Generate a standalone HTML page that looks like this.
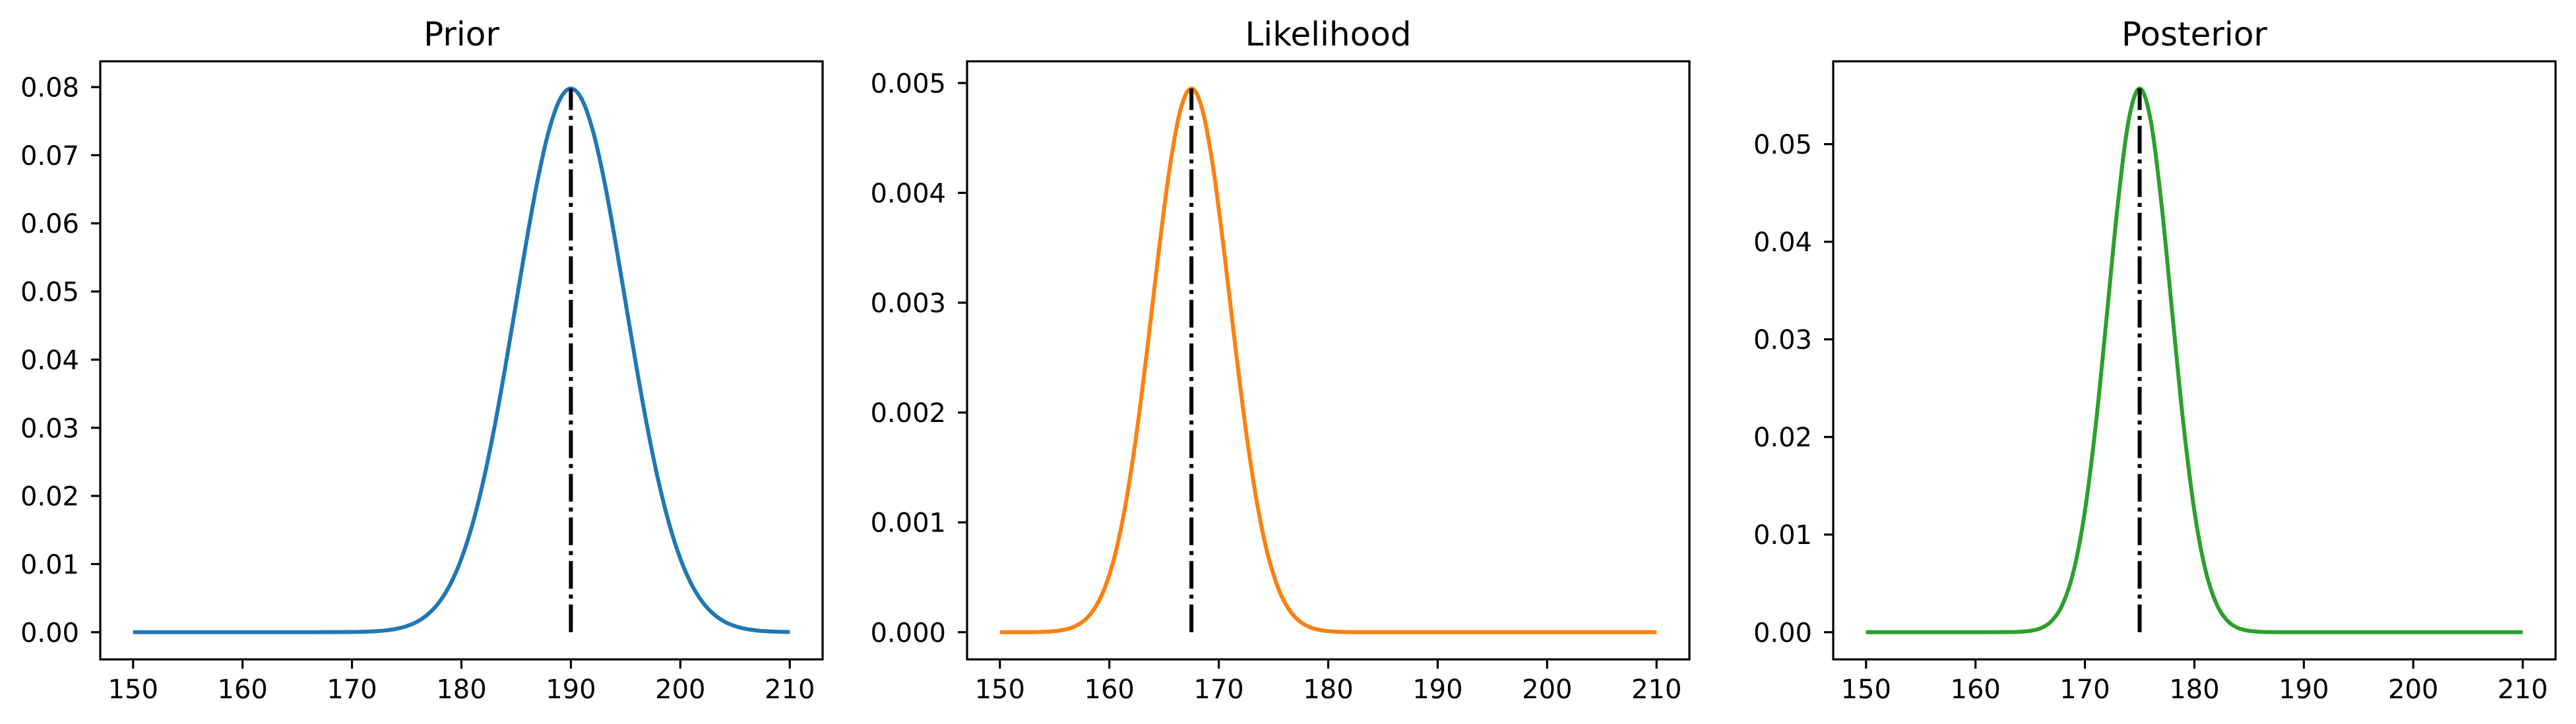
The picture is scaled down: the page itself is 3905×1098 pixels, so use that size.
<!DOCTYPE html>
<html><head><meta charset="utf-8">
<style>
html,body{margin:0;padding:0;background:#fff;}
svg{display:block;font-family:"DejaVu Sans","Liberation Sans",sans-serif;}
</style></head>
<body>
<svg id="fig" width="3905" height="1098" viewBox="0 0 3905 1098" xmlns="http://www.w3.org/2000/svg"></svg>
<script>
// ---- data ----
const titles = ["Prior", "Likelihood", "Posterior"];
const xTicks = [150, 160, 170, 180, 190, 200, 210];
const priorYTicks = [0.00, 0.01, 0.02, 0.03, 0.04, 0.05, 0.06, 0.07, 0.08];
const likeYTicks = [0.000, 0.001, 0.002, 0.003, 0.004, 0.005];
const postYTicks = [0.00, 0.01, 0.02, 0.03, 0.04, 0.05];
const priorYTickLabels = ["0.00","0.01","0.02","0.03","0.04","0.05","0.06","0.07","0.08"];
const likeYTickLabels = ["0.000","0.001","0.002","0.003","0.004","0.005"];
const postYTickLabels = ["0.00","0.01","0.02","0.03","0.04","0.05"];

const priorX = [150,152,154,156,158,160,162,164,166,168,169,170,171,172,173,174,175,176,177,178,179,180,181,182,183,184,185,186,187,188,189,190,191,192,193,194,195,196,197,198,199,200,201,202,203,204,205,206,207,208,209,210];
const priorY = [0,0,0,0,0,0,0,0,0,0.00001,0.00002,0.00003,0.00006,0.00012,0.00025,0.00048,0.00089,0.00158,0.00272,0.00448,0.00709,0.01080,0.01579,0.02218,0.02995,0.03884,0.04839,0.05794,0.06665,0.07365,0.07821,0.07979,0.07821,0.07365,0.06665,0.05794,0.04839,0.03884,0.02995,0.02218,0.01579,0.01080,0.00709,0.00448,0.00272,0.00158,0.00089,0.00048,0.00025,0.00012,0.00006,0.00003];

const likeX = [150,152.5,153.5,154.5,155.5,156.5,157.5,158.5,159.5,160.5,161.5,162.5,163.5,164.5,165.5,166.5,167.5,168.5,169.5,170.5,171.5,172.5,173.5,174.5,175.5,176.5,177.5,178.5,179.5,180.5,181.5,183.5,190,200,210];
const likeY = [0,0.0000005,0.000002,0.0000057,0.0000156,0.0000391,0.0000907,0.000194,0.000383,0.000697,0.001173,0.001821,0.002610,0.003454,0.004218,0.004756,0.00495,0.004756,0.004218,0.003454,0.002610,0.001821,0.001173,0.000697,0.000383,0.000194,0.0000907,0.0000391,0.0000156,0.0000057,0.000002,0,0,0,0];

const postX = [150,155,160,163,164,165,166,167,168,169,170,171,172,173,174,175,176,177,178,179,180,181,182,183,184,185,186,187,188,189,195,200,210];
const postY = [0,0,0,0.00001,0.00004,0.00014,0.00043,0.00120,0.00295,0.00642,0.01243,0.02133,0.03246,0.04381,0.05246,0.0557,0.05246,0.04381,0.03246,0.02133,0.01243,0.00642,0.00295,0.00120,0.00043,0.00014,0.00004,0.00001,0,0,0,0,0];

const means = [190, 167.5, 175];
const peaks = [0.07979, 0.00495, 0.0557];

// ---- layout ----
const NS = "http://www.w3.org/2000/svg";
const svg = document.getElementById('fig');
const axLefts = [152, 1466, 2779];
const axW = 1095, axTop = 93, axBot = 1000;
const colors = ["#1f77b4", "#ff7f0e", "#2ca02c"];
const yTickSets = [priorYTicks, likeYTicks, postYTicks];
const yLabelSets = [priorYTickLabels, likeYTickLabels, postYTickLabels];
const xsSets = [priorX, likeX, postX];
const ysSets = [priorY, likeY, postY];

function mk(tag, attrs, parent) {
  const el = document.createElementNS(NS, tag);
  for (const k in attrs) el.setAttribute(k, attrs[k]);
  (parent || svg).appendChild(el);
  return el;
}

function smoothPath(pts) {
  let d = "M" + pts[0][0].toFixed(2) + "," + pts[0][1].toFixed(2);
  for (let i = 0; i < pts.length - 1; i++) {
    const p0 = pts[i - 1] || pts[i], p1 = pts[i], p2 = pts[i + 1], p3 = pts[i + 2] || pts[i + 1];
    let c1x = p1[0] + (p2[0] - p0[0]) / 6, c1y = p1[1] + (p2[1] - p0[1]) / 6;
    let c2x = p2[0] - (p3[0] - p1[0]) / 6, c2y = p2[1] - (p3[1] - p1[1]) / 6;
    const lo = Math.max(p1[1], p2[1]);
    c1y = Math.min(c1y, lo); c2y = Math.min(c2y, lo);
    d += " C" + c1x.toFixed(2) + "," + c1y.toFixed(2) + " " + c2x.toFixed(2) + "," + c2y.toFixed(2) + " " + p2[0].toFixed(2) + "," + p2[1].toFixed(2);
  }
  return d;
}

for (let p = 0; p < 3; p++) {
  const L = axLefts[p], R = L + axW;
  const xs = xsSets[p], ys = ysSets[p];
  const xmin = 147, xmax = 213;
  const ymax = Math.max(...ys);
  const y0 = -0.05 * ymax, y1 = 1.05 * ymax;
  const sx = v => L + (v - xmin) / (xmax - xmin) * axW;
  const sy = v => axBot - (v - y0) / (y1 - y0) * (axBot - axTop);

  const g = mk('g', {});
  
  

  const pts = xs.map((x, i) => [sx(x), sy(ys[i])]);
  const path = mk('path', {d: smoothPath(pts), fill: 'none', stroke: colors[p], 'stroke-width': 6, 'stroke-linejoin': 'round'}, g);
  
  

  const ml = mk('line', {x1: sx(means[p]), x2: sx(means[p]), y1: sy(0), y2: sy(peaks[p]), stroke: '#000', 'stroke-width': 6, 'stroke-dasharray': '42 9 6 9'}, g);
  
  

  const fr = mk('rect', {x: L, y: axTop, width: axW, height: axBot - axTop, fill: 'none', stroke: '#000', 'stroke-width': 3.2}, g);
  
  

  const t = mk('text', {x: (L + R) / 2, y: 69, 'text-anchor': 'middle', 'font-size': 50, fill: '#000'}, g);
  t.textContent = titles[p];
  
  

  xTicks.forEach(v => {
    const x = sx(v);
    const tk = mk('line', {x1: x, x2: x, y1: axBot, y2: axBot + 14, stroke: '#000', 'stroke-width': 3.2}, g);
    
    
    const tl = mk('text', {x: x, y: 1059, 'text-anchor': 'middle', 'font-size': 40, fill: '#000'}, g);
    tl.textContent = String(v);
    
    
  });

  yTickSets[p].forEach((v, i) => {
    const y = sy(v);
    const tk = mk('line', {x1: L - 14, x2: L, y1: y, y2: y, stroke: '#000', 'stroke-width': 3.2}, g);
    
    
    const tl = mk('text', {x: L - 32, y: y + 14.5, 'text-anchor': 'end', 'font-size': 40, fill: '#000'}, g);
    tl.textContent = yLabelSets[p][i];
    
    
  });
}
</script>
</body></html>
